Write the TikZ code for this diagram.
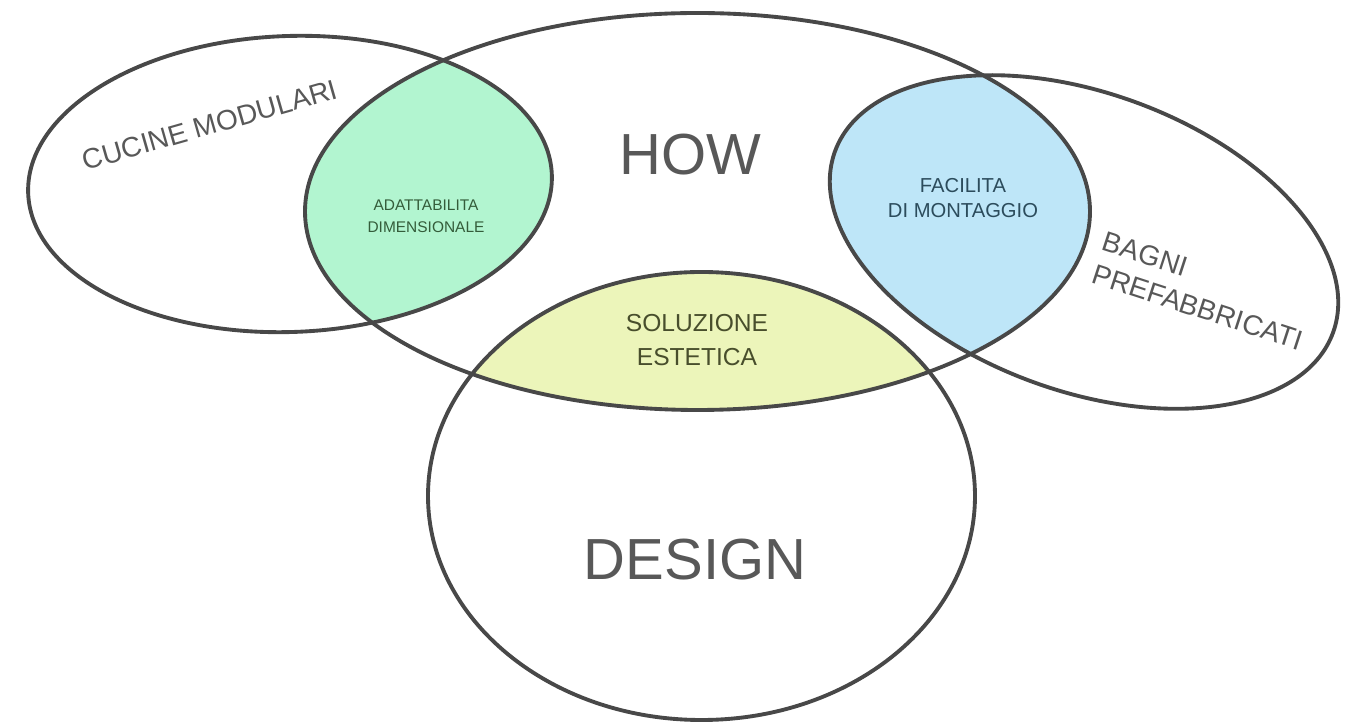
\documentclass[tikz,border=0pt]{standalone}
\usepackage{fontspec}
\setmainfont{Liberation Sans}
\usepackage{tikz}
\definecolor{rim}{RGB}{72,72,72}
\definecolor{inkgray}{RGB}{88,88,88}
\definecolor{mintfill}{RGB}{178,245,208}
\definecolor{skyfill}{RGB}{190,230,248}
\definecolor{limefill}{RGB}{236,245,186}
\definecolor{mintink}{RGB}{52,92,58}
\definecolor{skyink}{RGB}{44,76,92}
\definecolor{limeink}{RGB}{72,78,44}

\begin{document}
\begin{tikzpicture}[x=0.02cm, y=0.02cm,
		rim-line/.style={draw=rim, line width=2.2pt},
		big-label/.style={text=inkgray, font=\fontsize{33}{36}\selectfont},
		set-label/.style={text=inkgray, font=\fontsize{16}{19.5}\selectfont, align=left},
		lens-label/.style={align=center, inner sep=0pt}]
		\useasboundingbox (0,0) rectangle (1357,727);

		\coordinate (c-kitchen) at (290,543);
		\coordinate (c-how) at (697.5,515.5);
		\coordinate (c-bath) at (1084,485);
		\coordinate (c-design) at (701.5,231);

		\begin{scope}
			\clip[rotate around={2:(c-kitchen)}] (c-kitchen) ellipse [x radius=262, y radius=148];
			\fill[mintfill] (c-how) ellipse [x radius=392.5, y radius=198.5];
		\end{scope}
		\begin{scope}
			\clip[rotate around={-20:(c-bath)}] (c-bath) ellipse [x radius=265, y radius=149];
			\fill[skyfill] (c-how) ellipse [x radius=392.5, y radius=198.5];
		\end{scope}
		\begin{scope}
			\clip (c-design) ellipse [x radius=273.5, y radius=224];
			\fill[limefill] (c-how) ellipse [x radius=392.5, y radius=198.5];
		\end{scope}

		\draw[rim-line, rotate around={2:(c-kitchen)}] (c-kitchen) ellipse [x radius=262, y radius=148];
		\draw[rim-line] (c-how) ellipse [x radius=392.5, y radius=198.5];
		\draw[rim-line, rotate around={-20:(c-bath)}] (c-bath) ellipse [x radius=265, y radius=149];
		\draw[rim-line] (c-design) ellipse [x radius=273.5, y radius=224];

		\node[big-label] (t-how) at (690,572) {HOW};
		\node[big-label] (t-design) at (695,167) {DESIGN};
		\node[set-label, rotate=16] (t-kitchen) at (210,602) {CUCINE MODULARI};
		\node[set-label, rotate=-18] (t-bath) at (1203,436) {BAGNI\\PREFABBRICATI};

		\node[lens-label, text=mintink, font=\fontsize{8.8}{12.5}\selectfont] (t-fit) at (426,511) {ADATTABILITA\\DIMENSIONALE};
		\node[lens-label, text=skyink, font=\fontsize{11.5}{14.2}\selectfont] (t-mount) at (963,529) {FACILITA\\DI MONTAGGIO};
		\node[lens-label, text=limeink, font=\fontsize{14}{19.3}\selectfont] (t-look) at (697,387) {SOLUZIONE\\ESTETICA};
	\end{tikzpicture}
\end{document}
